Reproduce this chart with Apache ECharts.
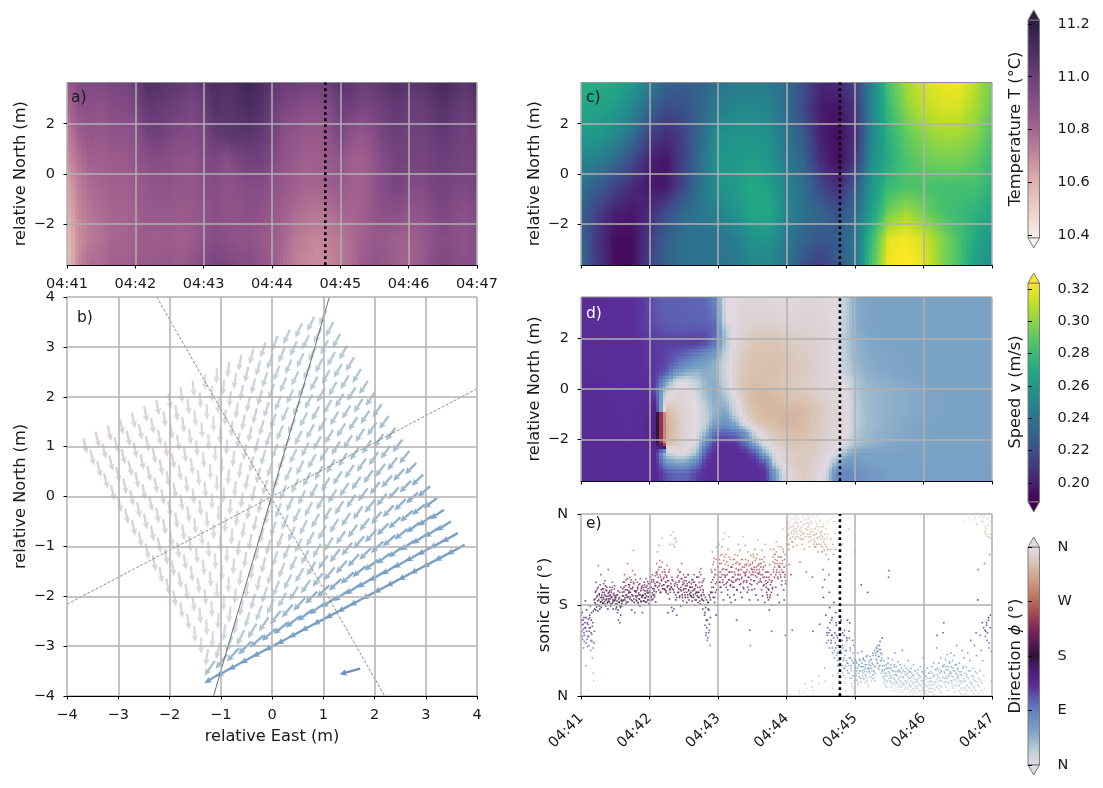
<!DOCTYPE html>
<html>
<head>
<meta charset="utf-8">
<style>html,body{margin:0;padding:0;background:#fff}#c{width:1103px;height:788px}</style>
<script src="https://cdn.jsdelivr.net/npm/echarts@6/dist/echarts.min.js"></script>
</head>
<body>
<div id="c"></div>
<script>
const timeLabels = ['04:41','04:42','04:43','04:44','04:45','04:46','04:47'];
const northTicks = [-2,0,2];
const dirLabels = {0:'N',90:'E',180:'S',270:'W',360:'N'};
const tempTicks = [10.4,10.6,10.8,11.0,11.2];
const speedTicks = [0.20,0.22,0.24,0.26,0.28,0.30,0.32];
const eventMinute = 3.78;

// Temperature: rows from +3.65 m down to -3.65 m, columns every 10 s
const tempRows = [
[10.85,10.92,10.94,10.93,10.96,10.96,11.0,11.08,11.07,11.05,11.03,11.0,11.05,11.1,11.08,11.10,11.15,11.1,11.05,11.0,11.0,10.98,10.98,11.0,11.06,11.04,11.0,11.02,11.05,11.08,11.06,11.05,11.08,11.12,11.08,11.05,11.1],
[10.78,10.88,10.9,10.88,10.92,10.92,10.95,11.03,11.02,11.0,10.98,10.95,11.0,11.07,11.05,11.07,11.1,11.07,11.0,10.95,10.93,10.9,10.9,10.92,11.0,10.98,10.95,10.97,11,11.03,11.0,11,11.03,11.07,11.03,11,11.05],
[10.72,10.82,10.87,10.85,10.88,10.88,10.9,10.97,10.98,10.95,10.93,10.92,10.95,11.02,11.04,11.05,11.05,11.02,10.98,10.9,10.88,10.85,10.85,10.88,10.95,10.88,10.86,10.92,10.97,11.0,10.98,10.98,11.0,11.03,11.0,10.98,11.0],
[10.68,10.76,10.82,10.82,10.84,10.84,10.88,10.9,10.92,10.9,10.88,10.88,10.92,10.95,10.9,10.95,10.98,10.98,10.93,10.88,10.85,10.82,10.83,10.85,10.88,10.82,10.82,10.88,10.93,10.97,10.97,10.96,10.98,11.0,10.98,10.96,10.98],
[10.62,10.72,10.78,10.8,10.82,10.82,10.84,10.86,10.88,10.88,10.86,10.86,10.9,10.92,10.88,10.9,10.92,10.92,10.88,10.86,10.82,10.8,10.8,10.82,10.85,10.82,10.82,10.88,10.93,10.96,10.93,10.92,10.95,10.97,10.95,10.94,10.96],
[10.6,10.7,10.75,10.78,10.8,10.8,10.82,10.85,10.85,10.85,10.84,10.85,10.87,10.9,10.88,10.88,10.9,10.88,10.86,10.82,10.78,10.76,10.75,10.76,10.8,10.8,10.82,10.88,10.9,10.9,10.87,10.88,10.92,10.95,10.92,10.9,10.93],
[10.56,10.68,10.74,10.76,10.8,10.8,10.82,10.84,10.83,10.84,10.82,10.84,10.88,10.92,10.9,10.88,10.88,10.85,10.84,10.8,10.74,10.72,10.7,10.72,10.75,10.78,10.82,10.85,10.85,10.82,10.82,10.84,10.88,10.92,10.9,10.88,10.92],
[10.55,10.7,10.78,10.78,10.82,10.82,10.84,10.85,10.85,10.86,10.84,10.88,10.92,10.95,10.95,10.92,10.92,10.88,10.84,10.78,10.72,10.7,10.68,10.7,10.74,10.78,10.84,10.88,10.86,10.82,10.8,10.84,10.9,10.94,10.92,10.9,10.92]
];

// Speed: rows from +3.65 m down to -3.65 m, columns every 15 s
const speedRows = [
[.272,.272,.270,.262,.245,.232,.228,.232,.24,.243,.245,.243,.235,.22,.203,.203,.215,.25,.285,.305,.315,.32,.322,.31,.295],
[.268,.266,.262,.25,.232,.218,.222,.232,.245,.25,.252,.248,.235,.218,.198,.196,.208,.25,.28,.30,.31,.315,.315,.305,.292],
[.262,.26,.252,.238,.215,.205,.215,.235,.255,.258,.258,.255,.24,.225,.2,.193,.205,.25,.275,.29,.30,.305,.305,.30,.285],
[.25,.245,.235,.218,.2,.196,.215,.238,.258,.26,.264,.258,.243,.232,.205,.193,.21,.255,.272,.285,.292,.295,.295,.29,.28],
[.238,.228,.215,.205,.197,.198,.218,.24,.256,.262,.27,.265,.248,.238,.218,.205,.225,.26,.28,.285,.285,.283,.283,.283,.275],
[.23,.213,.2,.197,.205,.22,.235,.242,.248,.258,.268,.27,.25,.238,.232,.222,.235,.265,.295,.305,.295,.285,.28,.275,.268],
[.232,.208,.193,.193,.212,.23,.238,.24,.24,.245,.256,.258,.243,.232,.225,.228,.24,.28,.318,.322,.315,.30,.285,.27,.258],
[.235,.21,.192,.192,.215,.232,.238,.24,.24,.243,.25,.25,.24,.222,.213,.225,.24,.285,.322,.325,.32,.30,.285,.265,.255]
];

// Direction (degrees): 18 rows top to bottom, 41 columns left to right
const dirRows = [
[132,132,130,130,130,128,122,112,108,108,108,106,104,85,2,356,352,352,352,354,356,354,352,352,354,358,25,50,55,56,56,56,56,56,56,56,56,56,56,56,56],
[132,132,130,130,130,128,122,112,108,108,108,106,104,92,4,356,350,350,350,352,355,353,350,350,354,358,25,50,55,56,56,56,56,56,56,56,56,56,56,56,56],
[132,132,130,130,130,128,122,114,110,108,108,108,106,98,6,355,348,346,346,348,352,350,348,348,352,358,25,50,55,56,56,56,56,56,56,56,56,56,56,56,56],
[132,132,130,130,130,128,124,118,114,112,112,114,114,106,28,352,345,340,338,338,342,345,346,348,352,359,28,48,54,56,56,56,56,56,56,56,56,56,56,56,56],
[132,132,130,130,130,130,126,124,124,124,124,126,118,95,28,350,342,336,334,334,338,342,344,346,350,0,28,46,52,54,55,56,56,56,56,56,56,56,56,56,56],
[132,132,130,130,130,130,128,125,120,114,108,100,85,65,20,348,338,333,332,332,335,340,342,345,350,0,26,44,50,53,54,55,56,56,56,56,56,56,56,56,56],
[132,132,130,130,130,130,128,125,120,105,85,70,60,45,14,346,335,332,330,330,334,338,340,344,350,0,24,42,48,52,54,55,56,56,56,56,56,56,56,56,56],
[132,132,130,130,130,130,128,124,112,70,50,44,50,45,10,345,334,330,330,330,334,338,340,344,350,358,20,38,46,50,52,54,55,56,56,56,56,56,56,56,56],
[134,134,132,130,130,130,130,122,60,6,0,20,45,50,15,342,332,328,330,332,336,340,342,346,350,354,4,30,42,46,48,50,52,54,55,56,56,56,56,56,56],
[134,134,132,132,130,130,130,118,15,352,355,8,40,52,26,350,332,325,325,328,332,336,338,342,348,352,0,28,40,44,46,48,50,52,54,55,56,56,56,56,56],
[134,134,132,132,130,130,132,136,345,345,352,2,30,50,40,5,336,325,322,325,328,330,332,338,345,350,358,26,38,42,45,48,50,52,54,55,56,56,56,56,56],
[134,134,134,132,132,132,134,146,322,340,350,0,22,48,55,15,342,330,324,324,322,322,326,334,342,350,356,24,38,42,45,48,50,52,54,55,56,56,56,56,56],
[134,134,134,132,132,132,135,152,316,335,350,358,20,60,72,42,352,335,328,326,322,322,328,336,344,350,355,24,38,42,46,50,52,54,55,56,56,56,56,56,56],
[134,134,134,134,132,132,135,154,314,335,350,0,40,100,105,95,62,6,345,334,330,328,330,338,344,352,358,28,40,44,48,50,52,54,55,56,56,56,56,56,56],
[134,134,134,134,134,134,135,148,320,340,352,5,80,128,128,128,100,40,356,342,336,334,336,340,345,352,5,30,40,46,50,52,54,55,56,56,56,56,56,56,56],
[134,134,134,134,134,134,134,138,20,0,0,30,115,130,132,132,128,110,40,2,346,340,340,342,350,5,40,55,56,56,56,56,56,56,56,56,56,56,56,56,56],
[134,134,134,134,134,134,134,136,70,55,55,85,128,132,132,132,132,128,110,10,346,340,338,345,355,40,70,65,60,58,58,58,58,58,58,58,58,58,58,58,58],
[134,134,134,134,134,134,134,136,115,105,105,120,130,132,132,132,132,130,128,60,0,344,340,348,10,80,85,80,70,65,60,58,58,58,58,58,58,58,58,58,58]
];

// Wind-field arrows: direction (degrees) on a 21x21 rotated array
const arrowDir = [
[347,347,348,348,349,349,350,351,353,355,358,2,6,10,14,18,21,23,24,25,26],
[347,347,348,348,349,350,351,352,354,356,0,4,8,12,16,19,22,24,25,26,27],
[347,348,348,349,349,350,351,353,355,358,2,6,10,14,18,21,23,25,26,27,28],
[347,348,348,349,350,351,352,354,356,0,4,8,12,16,20,23,25,26,27,28,29],
[348,348,349,349,350,351,353,355,358,2,6,10,14,18,22,24,26,27,28,29,30],
[348,348,349,350,351,352,354,356,0,4,8,12,16,20,24,26,27,28,29,30,31],
[348,349,349,350,351,353,355,358,2,6,10,14,18,22,25,27,28,29,30,31,32],
[348,349,350,351,352,354,356,0,4,8,12,16,20,24,26,28,29,30,31,32,33],
[349,349,350,351,353,355,358,2,6,10,14,18,22,25,27,29,30,31,32,33,34],
[349,350,351,352,354,356,0,4,8,12,16,20,24,26,28,30,31,32,33,34,35],
[349,350,351,353,355,358,2,6,10,14,18,22,25,27,29,31,32,33,34,35,36],
[350,351,352,354,356,0,4,8,12,16,20,24,26,28,30,32,33,34,35,36,37],
[350,351,353,355,358,2,6,10,14,18,22,25,27,29,31,33,34,35,36,37,38],
[351,352,354,356,0,4,8,12,16,20,24,26,28,30,32,34,36,38,40,42,44],
[352,353,355,358,2,6,10,14,18,22,25,27,29,31,33,35,37,39,41,44,46],
[353,355,358,0,4,8,12,16,20,24,27,29,31,33,35,37,39,42,44,47,49],
[356,358,2,6,10,14,18,22,26,29,32,34,36,38,40,42,44,46,48,50,52],
[0,4,8,12,16,20,24,28,31,34,36,38,40,42,44,46,48,50,52,54,55],
[8,14,20,26,30,34,38,40,42,44,46,47,48,50,51,52,53,54,55,56,57],
[34,38,42,45,47,49,50,51,52,53,54,55,56,57,58,58,59,59,60,60,60],
[58,59,59,60,60,60,60,61,61,61,61,61,61,61,61,61,61,61,61,61,61]
];
const arrowLen = [.32,.32,.32,.32,.32,.32,.32,.32,.32,.32,.32,.32,.32,.32,.32,.32,.33,.33,.34,.36,.4];
const keyArrow = [1.72,-3.45,-.40,-.115,74];
const guideSolid = [[-1.14,-4],[1.12,4]];
const guideDashA = [[-4,-2.16],[4,2.16]];
const guideDashB = [[-2.25,4],[2.2,-4]];

// Sonic direction samples (degrees), one list per 6-second bin
const sonicBins = [
[150,128,165,112,142,95,155,120,135,188,60,105,170,145,12],
[118,152,100,135,160,178,90,125,165,108,75,145,45,30,190,172],
[185,205,170,225,195,180,212,168,258,190,200,178,220,186,240,175],
[200,190,212,183,195,222,205,187,228,198,178,210,192,215,184,172,250],
[192,205,186,215,200,178,196,210,183,225,190,172,203,188,218,198],
[190,172,200,182,165,208,150,186,195,145,175,215,188,178],
[205,188,225,198,215,240,190,210,182,230,200,195,262,186,220,208],
[215,192,235,205,225,190,170,212,248,198,288,222,185,165,208,230],
[205,195,188,225,212,182,220,200,192,178,232,208,186,215,198,165],
[200,188,215,225,194,208,186,232,198,218,204,190,212,222,182,206],
[215,205,235,195,225,190,240,212,200,230,208,196,222,218,186,244],
[262,240,285,225,250,298,218,268,205,235,255,228,312,245,212],
[232,220,250,210,240,225,205,235,258,218,165,228,245,192,212],
[300,318,215,175,230,168,325,210,172,295,222,310,190,305,160],
[235,215,250,205,225,195,245,210,178,232,262,200,220,188,240],
[222,205,235,195,212,228,185,218,200,240,208,190,225,215,198],
[215,198,230,188,208,225,195,240,180,212,202,220,190,235,205],
[205,185,235,195,245,215,182,252,200,192,225,172,210,188,232],
[180,165,195,120,150,135,110,185,172,125,200,142,100,190,205],
[250,215,285,230,195,265,272,185,240,205,160,295,225,180,255],
[285,245,300,225,262,215,278,235,205,295,250,225,310,190,268,240,322],
[260,238,280,215,250,225,200,290,245,315,230,195,270,220,185,255],
[255,235,215,270,225,200,245,280,190,262,230,150,210,278,240,300],
[240,260,220,288,205,250,232,195,270,315,225,212,255,243,298],
[270,245,225,262,205,285,235,210,258,190,130,100,278,240,220,250],
[265,245,280,228,255,212,290,238,200,272,250,222,308,190,260,242],
[250,270,228,240,262,210,288,198,235,255,220,275,185,300,245],
[222,205,245,195,212,190,235,170,260,200,290,225,128,180,215],
[275,250,290,235,262,280,215,305,245,268,200,232,296,255,185],
[255,275,235,295,220,262,245,330,285,210,190,270,240,120,228,300],
[330,315,345,300,320,290,260,355,310,335,240,325,350,130,305,295],
[340,320,355,330,310,345,360,325,298,350,335,315,342,358,10,5,265],
[325,345,310,335,300,352,320,358,340,290,8,25,330,350,245,15],
[335,320,350,305,340,295,358,325,315,345,30,18,235,128,12,300],
[310,330,295,345,320,300,355,335,312,285,40,25,142,348,322],
[300,318,335,285,215,250,195,340,310,230,55,30,160,295,105,125,120],
[290,320,270,240,205,175,130,350,310,110,150,120,95,40,15,280,185,90],
[345,322,290,165,145,120,100,85,70,60,45,30,15,5,110,130,90,75],
[350,300,110,125,95,70,55,40,130,80,60,25,10,90,115,65,150,45],
[352,330,128,115,145,95,75,60,50,35,20,110,85,65,100,40,285,10],
[72,58,48,40,65,30,55,85,45,25,62,38,70,50,35,28,220,88],
[65,50,40,75,58,32,48,70,42,55,28,62,35,80,205,22,52],
[68,55,45,78,60,38,72,50,34,85,62,42,48,90,30,58],
[80,95,72,88,65,100,78,60,92,52,108,70,85,45,75,115],
[60,48,35,70,28,52,40,22,62,45,30,18,55,75,235,248],
[55,40,28,62,35,18,50,72,25,42,15,58,32,85,48,10],
[58,40,25,48,68,32,18,52,38,62,12,28,45,22,90,8],
[50,35,22,60,42,15,30,55,25,45,12,38,70,20,48,8],
[48,30,18,55,38,12,42,25,62,8,35,20,50,15,28,5],
[45,28,15,52,35,10,40,22,58,5,30,18,48,12,25,75],
[42,25,10,50,32,5,38,18,55,2,28,14,45,8,22,35],
[48,30,15,58,8,38,22,65,3,42,12,28,52,18,95,120],
[55,38,22,65,12,45,30,75,5,50,18,35,125,60,145],
[62,45,28,72,18,52,35,82,10,58,25,42,68,15,48,85],
[58,40,25,70,15,50,32,80,8,62,20,45,100,35,55],
[52,35,20,65,10,42,28,5,48,15,90,30,58,3,75,345],
[45,28,12,58,5,38,20,85,2,50,15,352,70,25,110,348],
[40,22,8,55,3,32,15,100,355,48,12,125,80,340,28,190,250],
[35,18,5,50,120,28,90,358,10,145,70,345,135,355,262,325],
[335,128,320,145,110,350,338,150,95,355,280,312,160,30,345,290]
];
// The densest part of each bin, read as a second pass
const sonicDense = [
[160,140,118,150,132,125,108,145,135,155,128,112,98],
[142,118,128,155,135,110,150,122,138,95,168,105,128],
[192,182,208,176,198,188,215,180,202,172,195,186,210],
[195,205,185,212,192,200,182,218,190,208,197,186,203],
[188,198,208,192,182,205,195,215,186,200,190,212,194],
[182,195,176,188,200,170,192,185,205,178,160,190,183],
[198,212,190,206,225,194,218,200,186,210,232,196,204],
[205,220,196,212,230,200,188,215,225,192,208,240,198],
[190,208,198,215,185,204,192,222,200,188,212,195,218],
[198,210,188,220,202,194,215,186,208,226,196,204,190],
[208,222,198,215,230,204,192,226,212,200,238,218,206],
[225,245,215,235,210,255,222,240,205,230,218,265,212],
[220,235,212,245,225,208,238,215,228,202,218,250,210],
[205,222,215,235,212,228,300,205,218,312,200,225,195],
[220,205,238,212,228,198,245,215,208,232,195,225,210],
[212,228,200,218,235,205,222,195,240,210,225,202,215],
[205,222,195,215,230,200,210,225,190,218,205,235,198],
[215,195,205,225,188,210,240,198,218,190,205,228,200],
[160,140,175,125,190,150,115,185,170,130,195,155,205],
[225,245,205,260,215,235,195,250,222,270,210,240,230],
[255,235,270,225,245,215,262,240,280,230,252,220,275],
[235,250,222,265,240,210,258,230,275,245,218,255,228],
[245,225,260,235,215,270,240,228,252,210,265,232,248],
[250,230,262,240,222,270,235,255,215,245,228,260,238],
[240,258,228,250,215,268,235,245,222,260,230,252,210],
[262,240,275,250,228,268,245,255,235,280,242,258,225],
[245,262,232,255,225,270,240,250,218,265,235,258,228],
[215,235,200,225,245,210,230,195,220,240,205,228,212],
[265,245,280,255,270,240,285,250,262,235,275,258,245],
[262,240,275,250,228,268,290,245,255,235,280,222,258],
[325,310,340,318,300,332,345,312,322,305,335,315,328],
[335,350,325,342,315,355,330,345,320,338,352,328,312],
[332,318,345,325,352,310,338,322,348,315,330,342,358],
[328,342,315,335,352,320,345,308,330,340,325,355,318],
[318,305,332,295,322,340,312,328,300,335,315,345,325],
[310,325,295,315,335,305,288,320,300,330,280,312,345],
[135,110,125,95,145,290,105,120,155,85,300,115,75],
[125,105,95,140,80,115,60,100,130,70,90,50,150],
[85,60,100,45,75,120,55,90,35,70,110,50,65],
[60,45,75,35,90,55,25,70,40,15,65,30,50],
[55,42,68,32,50,22,60,38,72,48,28,58,35],
[58,45,72,35,52,25,62,40,78,48,30,55,18],
[62,48,38,72,55,30,65,42,80,50,35,58,45],
[85,72,95,65,88,55,78,100,60,92,70,82,50],
[52,38,25,60,45,32,18,55,40,28,65,48,35],
[45,30,18,55,38,25,10,50,35,62,22,42,28],
[42,28,15,50,35,22,8,48,30,18,55,38,25],
[38,25,12,48,30,18,5,42,28,15,52,35,22],
[35,22,10,45,28,15,3,40,25,12,50,32,18],
[32,20,8,42,25,12,358,38,22,10,48,30,15],
[30,18,5,40,22,10,355,35,20,8,45,28,15],
[35,22,8,45,28,15,2,40,25,12,52,32,18],
[42,28,15,52,35,20,8,48,30,18,58,38,25],
[48,35,22,58,40,28,12,52,38,25,65,45,30],
[45,30,18,55,38,22,8,50,32,20,62,42,28],
[38,22,10,48,30,15,3,42,25,12,55,35,18],
[30,15,5,42,22,10,355,35,18,8,50,28,12],
[25,10,358,38,18,5,350,30,12,2,45,22,8],
[20,5,355,32,12,358,345,25,8,352,40,15,130],
[118,330,140,350,125,315,155,105,345,135,320,88,300]
];

// ---- colour ramps ----
const tempStops = [[0,'#f7efea'],[.13,'#ecd0c8'],[.26,'#dfb0ae'],[.38,'#c5859b'],[.5,'#a5648f'],[.62,'#8a4f88'],[.74,'#6b3e7a'],[.86,'#4b2d63'],[1,'#2b1d3f']];
const viridisStops = [[0,'#440154'],[.1,'#482475'],[.2,'#414487'],[.3,'#355f8d'],[.4,'#2a788e'],[.5,'#21918c'],[.6,'#22a884'],[.7,'#44bf70'],[.8,'#7ad151'],[.9,'#bddf26'],[1,'#fde725']];
const twilightStops = [[0,'#e2d9e2'],[.07,'#bcced6'],[.155,'#7ba3c6'],[.25,'#6281be'],[.3,'#5e60b4'],[.36,'#5a2d9a'],[.42,'#50207f'],[.47,'#3f1760'],[.5,'#2f1436'],[.56,'#561a56'],[.62,'#7c2459'],[.7,'#a84a55'],[.76,'#bd6f5c'],[.84,'#cd9a7f'],[.92,'#d9c2ae'],[.96,'#dcd0d0'],[1,'#e2d9e2']];

function hexRgb(h){return [1,3,5].map(k=>parseInt(h.substr(k,2),16));}
function makeRamp(stops){
  const s = stops.map(p=>[p[0],hexRgb(p[1])]);
  return function(t){
    t = Math.max(0,Math.min(1,t));
    for(let k=1;k<s.length;k++){
      if(t<=s[k][0]){
        const f=(t-s[k-1][0])/(s[k][0]-s[k-1][0]);
        const a=s[k-1][1],b=s[k][1];
        return 'rgb('+Math.round(a[0]+(b[0]-a[0])*f)+','+Math.round(a[1]+(b[1]-a[1])*f)+','+Math.round(a[2]+(b[2]-a[2])*f)+')';
      }
    }
    return 'rgb('+s[s.length-1][1].join(',')+')';
  };
}
const tempRamp=makeRamp(tempStops), viridis=makeRamp(viridisStops), twilight=makeRamp(twilightStops);
const T_MIN=10.389,T_MAX=11.215,V_MIN=.1882,V_MAX=.3237;
const tempColor=v=>tempRamp((v-T_MIN)/(T_MAX-T_MIN));
const speedColor=v=>viridis((v-V_MIN)/(V_MAX-V_MIN));
const dirColor=v=>twilight((((v%360)+360)%360)/360);

// ---- layout ----
const FONT='DejaVu Sans';
const grids=[
 {left:67,top:82.5,width:410,height:182.5},
 {left:67,top:297,width:410,height:399},
 {left:581,top:82.5,width:411,height:182.5},
 {left:581,top:297,width:411,height:184},
 {left:581,top:514,width:411,height:182},
 {left:1028,top:20,width:11.5,height:218},
 {left:1028,top:283,width:11.5,height:219},
 {left:1028,top:547,width:11.5,height:218}
];
const gridLine={show:true,lineStyle:{color:'#b0b0b0',width:1.5}};
const tickBase={show:true,length:3.5,lineStyle:{color:'#000',width:1}};
const labelBase={color:'#1a1a1a',fontFamily:FONT,fontSize:14.5};
const nameBase={color:'#1a1a1a',fontFamily:FONT,fontSize:16.2};
const minus=v=>String(v).replace('-','\u2212');
function timeX(idx,showLabels,rotate){
  return {gridIndex:idx,type:'value',min:0,max:6,interval:1,z:5,
    axisLine:{show:true,onZero:false,lineStyle:{color:'#000',width:1.2}},axisTick:tickBase,splitLine:gridLine,
    axisLabel:Object.assign({},labelBase,{show:showLabels,rotate:rotate||0,margin:rotate?20:12,showMinLabel:true,showMaxLabel:true,hideOverlap:false,formatter:v=>timeLabels[v]})};
}
function northY(idx){
  return {gridIndex:idx,type:'value',min:-3.65,max:3.65,z:5,
    name:'relative North (m)',nameLocation:'middle',nameGap:38,nameTextStyle:nameBase,
    axisLine:{show:false,onZero:false},
    axisTick:Object.assign({},tickBase,{customValues:northTicks}),splitLine:gridLine,
    axisLabel:Object.assign({},labelBase,{customValues:northTicks,margin:12,formatter:minus})};
}
function barX(idx){return {gridIndex:idx,type:'value',min:0,max:1,show:false};}
function barY(idx,min,max,ticks,fmt,extra){
  return Object.assign({gridIndex:idx,type:'value',min:min,max:max,position:'right',z:5,
    axisLine:{show:false},splitLine:{show:false},
    axisTick:Object.assign({},tickBase,{length:4,customValues:ticks}),
    axisLabel:Object.assign({},labelBase,{customValues:ticks,margin:18,formatter:fmt})},extra||{});
}
const xAxes=[
 timeX(0,true),
 {gridIndex:1,type:'value',min:-4,max:4,interval:1,z:5,name:'relative East (m)',nameLocation:'middle',nameGap:33,nameTextStyle:nameBase,
  axisLine:{show:true,onZero:false,lineStyle:{color:'#000',width:1.2}},axisTick:tickBase,splitLine:gridLine,
  axisLabel:Object.assign({},labelBase,{margin:12,formatter:minus})},
 timeX(2,false),timeX(3,false),timeX(4,true,45),barX(5),barX(6),barX(7)
];
const yAxes=[
 northY(0),
 {gridIndex:1,type:'value',min:-4,max:4,interval:1,z:5,name:'relative North (m)',nameLocation:'middle',nameGap:38,nameTextStyle:nameBase,
  axisLine:{show:false,onZero:false},axisTick:tickBase,splitLine:gridLine,axisLabel:Object.assign({},labelBase,{margin:12,formatter:minus})},
 northY(2),northY(3),
 {gridIndex:4,type:'value',min:0,max:360,interval:180,z:5,name:'sonic dir (\u00b0)',nameLocation:'middle',nameGap:28,nameTextStyle:nameBase,
  axisLine:{show:false,onZero:false},axisTick:tickBase,splitLine:gridLine,axisLabel:Object.assign({},labelBase,{margin:13,formatter:v=>dirLabels[v]})},
 barY(5,T_MIN,T_MAX,tempTicks,v=>v.toFixed(1)),
 barY(6,V_MIN,V_MAX,speedTicks,v=>v.toFixed(2)),
 barY(7,0,360,[0,90,180,270,360],v=>dirLabels[v],{interval:90})
];

// ---- series builders ----
function evenNodes(a,b,n){const r=[];for(let k=0;k<n;k++)r.push(a+(b-a)*k/(n-1));return r;}
function cellItems(rows,xs,ys){
  const out=[];
  for(let j=0;j<rows.length-1;j++)for(let i=0;i<rows[j].length-1;i++){
    out.push([xs[i],ys[j],xs[i+1],ys[j+1],rows[j][i],rows[j][i+1],rows[j+1][i],rows[j+1][i+1]]);
  }
  return out;
}
function heatSeries(idx,items,colorOf,subX,subY,wrap){
  return {type:'custom',xAxisIndex:idx,yAxisIndex:idx,clip:true,z:2,silent:true,progressive:0,
    data:items,encode:{x:[0,2],y:[1,3]},
    renderItem(params,api){
      const a=api.coord([api.value(0),api.value(1)]),b=api.coord([api.value(2),api.value(3)]);
      let v00=api.value(4),v10=api.value(5),v01=api.value(6),v11=api.value(7);
      if(wrap){
        const un=v=>v00+((v-v00+540)%360+360)%360-180;
        v10=un(v10);v01=un(v01);v11=un(v11);
      }
      const kids=[];
      for(let p=0;p<subX;p++)for(let q=0;q<subY;q++){
        const u=(p+.5)/subX,w=(q+.5)/subY;
        const x0=Math.round(a[0]+(b[0]-a[0])*p/subX),x1=Math.round(a[0]+(b[0]-a[0])*(p+1)/subX);
        const y0=Math.round(a[1]+(b[1]-a[1])*q/subY),y1=Math.round(a[1]+(b[1]-a[1])*(q+1)/subY);
        const v=v00*(1-u)*(1-w)+v10*u*(1-w)+v01*(1-u)*w+v11*u*w;
        kids.push({type:'rect',shape:{x:x0,y:y0,width:x1-x0,height:y1-y0},style:{fill:colorOf(v)}});
      }
      return {type:'group',children:kids};
    }};
}
function arrowItems(){
  const OX=-3.68,OY=1.17,IX=.237,IY=.128,JX=.135,JY=-.235,out=[];
  arrowDir.forEach((row,j)=>row.forEach((phi,i)=>{
    const r=phi*Math.PI/180,L=arrowLen[j];
    out.push([OX+i*IX+j*JX,OY+i*IY+j*JY,-L*Math.sin(r),-L*Math.cos(r),phi]);
  }));
  out.push(keyArrow);
  return out;
}
const quiverSeries={type:'custom',xAxisIndex:1,yAxisIndex:1,z:3,silent:true,progressive:0,data:arrowItems(),encode:{x:0,y:1},
  renderItem(params,api){
    const t=api.coord([api.value(0),api.value(1)]),h=api.coord([api.value(0)+api.value(2),api.value(1)+api.value(3)]);
    const dx=h[0]-t[0],dy=h[1]-t[1],L=Math.hypot(dx,dy),ux=dx/L,uy=dy/L,nx=-uy,ny=ux;
    const W=1.2,HW=3.4,HL=7.2,NK=6;
    const P=(a,b)=>[t[0]+ux*a+nx*b,t[1]+uy*a+ny*b];
    return {type:'polygon',shape:{points:[P(0,W),P(L-NK,W),P(L-HL,HW),P(L,0),P(L-HL,-HW),P(L-NK,-W),P(0,-W)]},style:{fill:dirColor(api.value(4))}};
  }};
function guide(data,dashed){
  return {type:'line',xAxisIndex:1,yAxisIndex:1,z:4,silent:true,symbol:'none',data:data,
    lineStyle:{color:'#707070',width:dashed?.8:1,type:dashed?[3,1.6]:'solid'}};
}
function topEdge(idx){
  return {type:'line',xAxisIndex:idx,yAxisIndex:idx,z:6,silent:true,symbol:'none',clip:false,data:[[0,3.65],[6,3.65]],lineStyle:{color:'#8f8f8f',width:1}};
}
function eventLine(idx,lo,hi){
  return {type:'line',xAxisIndex:idx,yAxisIndex:idx,z:7,silent:true,symbol:'none',data:[[eventMinute,lo],[eventMinute,hi]],lineStyle:{color:'#000',width:2.6,type:[2.8,3.2],cap:'butt'}};
}
const sonicPoints=[];
[sonicBins,sonicDense].forEach(bins=>bins.forEach((list,b)=>list.forEach((phi,k)=>{sonicPoints.push([(b+(k+.5)/list.length)*6/60,phi]);})));
function colorbar(idx,stops,min,max){
  return {type:'custom',xAxisIndex:idx,yAxisIndex:idx,z:3,silent:true,data:[[0,min,1,max]],encode:{x:[0,2],y:[1,3]},
    renderItem(params,api){
      const lo=api.coord([0,min]),hi=api.coord([1,max]);
      const grad=new echarts.graphic.LinearGradient(0,0,0,1,stops.slice().reverse().map(s=>({offset:1-s[0],color:s[1]})));
      const mid=(lo[0]+hi[0])/2,line={stroke:'#7a7a7a',lineWidth:1};
      return {type:'group',children:[
        {type:'rect',shape:{x:lo[0],y:hi[1],width:hi[0]-lo[0],height:lo[1]-hi[1]},style:Object.assign({fill:grad},line)},
        {type:'polygon',shape:{points:[[lo[0],hi[1]],[hi[0],hi[1]],[mid,hi[1]-10]]},style:Object.assign({fill:stops[stops.length-1][1]},line)},
        {type:'polygon',shape:{points:[[lo[0],lo[1]],[hi[0],lo[1]],[mid,lo[1]+10]]},style:Object.assign({fill:stops[0][1]},line)}
      ]};
    }};
}

// Direction field nodes sit at cell centres; the edge rows and columns repeat up to the frame
const dirX=[0].concat(dirRows[0].map((_,i)=>(15+30*i)/1235*6));dirX.push(6);
const dirY=[3.65].concat(dirRows.map((_,j)=>3.65-(15+30*j)/550*7.3));dirY.push(-3.65);
const dirFull=[dirRows[0]].concat(dirRows,[dirRows[dirRows.length-1]]).map(r=>[r[0]].concat(r,[r[r.length-1]]));

const series=[
 heatSeries(0,cellItems(tempRows,evenNodes(0,6,37),evenNodes(3.65,-3.65,8)),tempColor,3,8,false),
 quiverSeries,guide(guideSolid,false),guide(guideDashA,true),guide(guideDashB,true),
 heatSeries(2,cellItems(speedRows,evenNodes(0,6,25),evenNodes(3.65,-3.65,8)),speedColor,6,10,false),
 heatSeries(3,cellItems(dirFull,dirX,dirY),dirColor,3,3,true),
 {type:'scatter',xAxisIndex:4,yAxisIndex:4,z:3,silent:true,symbol:'rect',symbolSize:1.6,data:sonicPoints,
  itemStyle:{color:p=>dirColor(p.data[1])}},
 topEdge(0),topEdge(2),topEdge(3),
 eventLine(0,-3.65,3.65),eventLine(2,-3.65,3.65),eventLine(3,-3.65,3.65),eventLine(4,0,360),
 colorbar(5,tempStops,T_MIN,T_MAX),colorbar(6,viridisStops,V_MIN,V_MAX),colorbar(7,twilightStops,0,360)
];

function letter(t,x,y,c){return {type:'text',left:x,top:y,z:20,style:{text:t,fill:c,font:'15.5px "DejaVu Sans"'}};}
function barName(t,y){
  return {type:'text',x:1016,y:y,rotation:Math.PI/2,z:20,style:{text:t,fill:'#1a1a1a',font:'16.2px "DejaVu Sans"',align:'center',verticalAlign:'middle',
    rich:{i:{fontStyle:'italic',fontFamily:FONT,fontSize:16.2,fill:'#1a1a1a'}}}};
}
const chart=echarts.init(document.getElementById('c'),null,{renderer:'canvas'});
chart.setOption({
  animation:false,backgroundColor:'#fff',textStyle:{fontFamily:FONT},
  grid:grids,xAxis:xAxes,yAxis:yAxes,series:series,
  graphic:[letter('a)',71,90,'#1a1a1a'),letter('b)',77,310,'#1a1a1a'),letter('c)',586,90,'#1a1a1a'),letter('d)',586,306,'#ffffff'),letter('e)',586,516,'#1a1a1a'),
    barName('Temperature T (\u00b0C)',129),barName('Speed v (m/s)',392),barName('Direction {i|\u03d5} (\u00b0)',656)]
});
</script>
</body>
</html>
